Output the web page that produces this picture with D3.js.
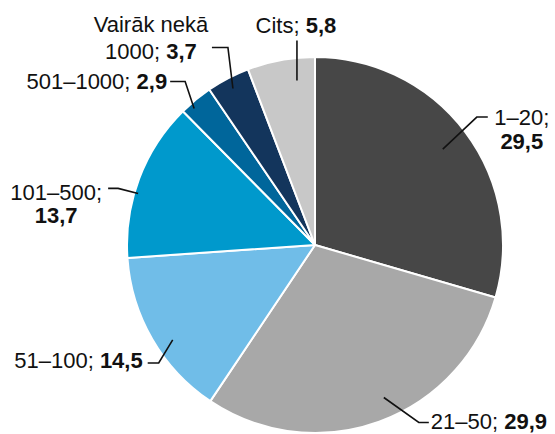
<!DOCTYPE html>
<html>
<head>
<meta charset="utf-8">
<script src="https://cdn.jsdelivr.net/npm/d3@7"></script>
<style>
  body { margin: 0; background: #fff; }
  svg text { font-family: "Liberation Sans", Arial, sans-serif; font-size: 22px; fill: #111; }
</style>
</head>
<body>
<script>
// data
const categories = ["1–20", "21–50", "51–100", "101–500", "501–1000", "Vairāk nekā 1000", "Cits"];
const values = [29.5, 29.9, 14.5, 13.7, 2.9, 3.7, 5.8];
const colors = ["#474747", "#a8a8a8", "#70bde8", "#0099cc", "#00669b", "#13355c", "#c8c8c8"];
// label lines, the value is appended to the last line
const labelLines = [
  ["1–20;", ""],
  ["21–50; "],
  ["51–100; "],
  ["101–500;", ""],
  ["501–1000; "],
  ["Vairāk nekā", "1000; "],
  ["Cits; "]
];

// leader layout: t = position inside slice angle, k = radius factor,
// elbow offset, tail length, text offset from tail end, anchor, line height
const leaders = [
  { t: 0.50, k: 0.85, elbow: [34, -32], tail: 11, text: [34, 8], anchor: "middle", lh: 24 },
  { t: 0.46, k: 0.89, elbow: [35, 25], tail: 10, text: [2, 6], anchor: "start", lh: 24 },
  { t: 0.43, k: 0.91, elbow: [-14, 23], tail: -11, text: [-5, 5], anchor: "end", lh: 24 },
  { t: 0.41, k: 0.98, elbow: [-20, -5], tail: -10, text: [-52, 12], anchor: "middle", lh: 23 },
  { t: 0.30, k: 0.97, elbow: [-9, -27], tail: -15, text: [-3, 8], anchor: "end", lh: 24 },
  { t: 0.49, k: 0.94, elbow: [-5, -41], tail: -16, text: [-61, -16], anchor: "middle", lh: 27 },
  { t: 0.70, k: 0.88, elbow: [0, -40], tail: 0, text: [-1, -8], anchor: "middle", lh: 24 }
];

const width = 555, height = 434;
const cx = 315, cy = 245, radius = 188;
const fmt = v => d3.format(".1f")(v).replace(".", ",");

const svg = d3.select("body").append("svg")
  .attr("width", width)
  .attr("height", height);

const data = categories.map((c, i) => ({ cat: c, value: values[i], color: colors[i], i: i }));

const pie = d3.pie().value(d => d.value).sort(null);
const arc = d3.arc().innerRadius(0).outerRadius(radius);
const arcs = pie(data);

const g = svg.append("g").attr("transform", `translate(${cx},${cy})`);

g.selectAll("path.slice")
  .data(arcs)
  .join("path")
  .attr("class", "slice")
  .attr("d", arc)
  .attr("fill", d => d.data.color)
  .attr("stroke", "#fff")
  .attr("stroke-width", 2)
  .attr("stroke-linejoin", "round");

arcs.forEach((a, i) => {
  const L = leaders[i];
  const ang = a.startAngle + (a.endAngle - a.startAngle) * L.t;
  const r = radius * L.k;
  const p0 = [r * Math.sin(ang), -r * Math.cos(ang)];
  const p1 = [p0[0] + L.elbow[0], p0[1] + L.elbow[1]];
  const p2 = [p1[0] + L.tail, p1[1]];

  g.append("path")
    .attr("d", d3.line()([p0, p1, p2]))
    .attr("fill", "none")
    .attr("stroke", "#111")
    .attr("stroke-width", 1.6);

  const text = g.append("text")
    .attr("text-anchor", L.anchor)
    .attr("x", p2[0] + L.text[0])
    .attr("y", p2[1] + L.text[1]);

  const lines = labelLines[i];
  lines.forEach((line, j) => {
    const ts = text.append("tspan")
      .attr("x", p2[0] + L.text[0])
      .attr("dy", j === 0 ? 0 : L.lh);
    if (line) ts.append("tspan").text(line);
    if (j === lines.length - 1) {
      ts.append("tspan").attr("font-weight", "bold").text(fmt(a.data.value));
    }
  });
});
</script>
</body>
</html>
